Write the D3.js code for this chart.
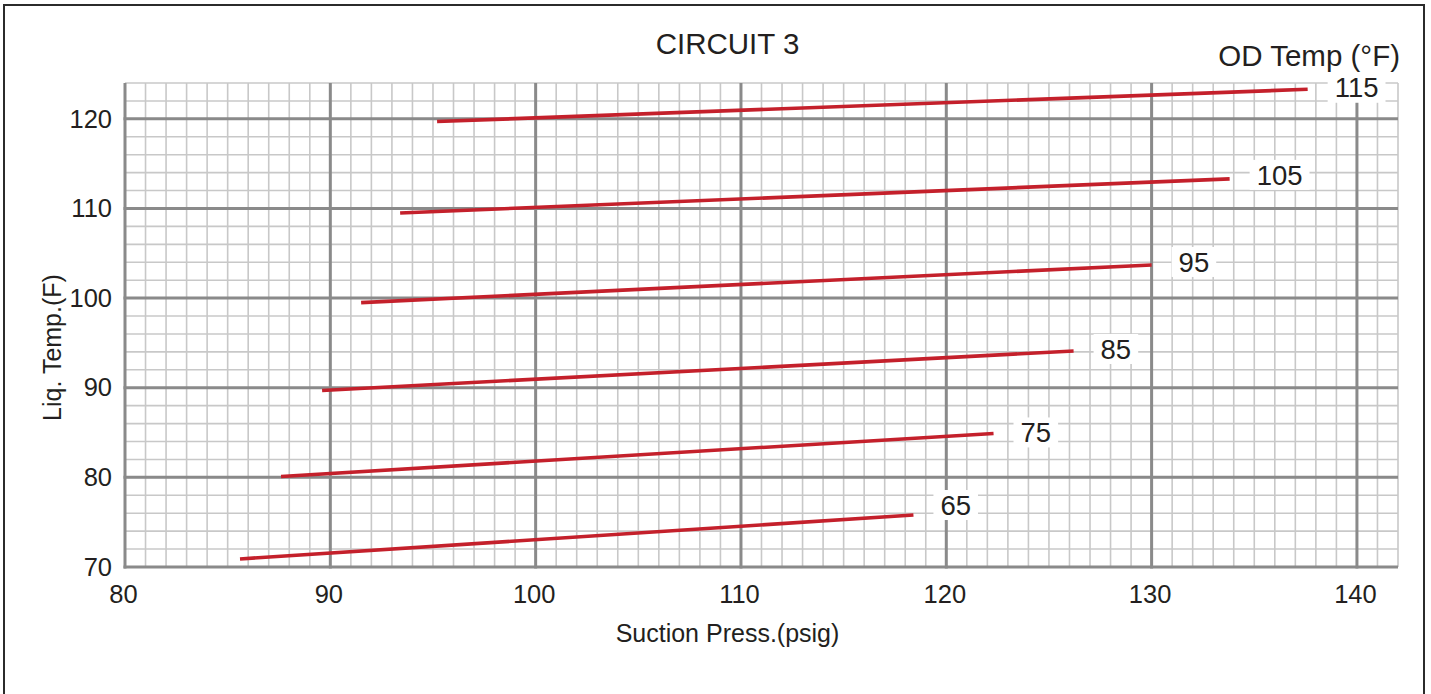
<!DOCTYPE html>
<html>
<head>
<meta charset="utf-8">
<script src="https://cdn.jsdelivr.net/npm/d3@7"></script>
<style>
  html, body { margin: 0; padding: 0; background: #fff; }
  svg { display: block; }
  text { font-family: "Liberation Sans", Arial, Helvetica, sans-serif; fill: #231f20; }
</style>
</head>
<body>
<svg id="chart" width="1431" height="694"></svg>
<script>
// ---- data ----
const odTemps = ["65", "75", "85", "95", "105", "115"];
const startPress = [85.6, 87.6, 89.6, 91.5, 93.4, 95.2];
const startLiq   = [70.9, 80.1, 89.7, 99.5, 109.5, 119.7];
const endPress   = [118.4, 122.3, 126.2, 130.0, 133.8, 137.6];
const endLiq     = [75.8, 84.9, 94.1, 103.7, 113.3, 123.3];
const xTicks = [80, 90, 100, 110, 120, 130, 140];
const yTicks = [70, 80, 90, 100, 110, 120];
const xDomain = [80, 142];
const yDomain = [70, 124];

const chartTitle = "CIRCUIT 3";
const xTitle = "Suction Press.(psig)";
const yTitle = "Liq. Temp.(F)";
const legendTitle = "OD Temp (°F)";

// ---- layout ----
const svg = d3.select("#chart");
const pLeft = 125, pRight = 1398, pTop = 83, pBottom = 567;
const x = d3.scaleLinear().domain(xDomain).range([pLeft, pRight]);
const y = d3.scaleLinear().domain(yDomain).range([pBottom, pTop]);

// outer frame
svg.append("rect")
  .attr("x", 4).attr("y", 5).attr("width", 1420).attr("height", 720)
  .attr("fill", "none").attr("stroke", "#2b2b2b").attr("stroke-width", 2);

// minor grid
const xMinor = d3.range(xDomain[0], xDomain[1] + 1, 1);
const yMinor = d3.range(yDomain[0], yDomain[1] + 1, 2);
const grid = svg.append("g");
grid.selectAll(".vx").data(xMinor).join("line")
  .attr("x1", d => x(d)).attr("x2", d => x(d))
  .attr("y1", y(yDomain[0])).attr("y2", y(yDomain[1]))
  .attr("stroke", "#c8c8c8").attr("stroke-width", 1.6);
grid.selectAll(".hy").data(yMinor).join("line")
  .attr("y1", d => y(d)).attr("y2", d => y(d))
  .attr("x1", x(xDomain[0])).attr("x2", x(xDomain[1]))
  .attr("stroke", "#c8c8c8").attr("stroke-width", 1.6);

// major grid
grid.selectAll(".mx").data(xTicks).join("line")
  .attr("x1", d => x(d)).attr("x2", d => x(d))
  .attr("y1", y(yDomain[0]) + 1.5).attr("y2", y(yDomain[1]))
  .attr("stroke", "#8a8a8a").attr("stroke-width", 3);
grid.selectAll(".my").data(yTicks).join("line")
  .attr("y1", d => y(d)).attr("y2", d => y(d))
  .attr("x1", x(xDomain[0]) - 1.5).attr("x2", x(xDomain[1]))
  .attr("stroke", "#8a8a8a").attr("stroke-width", 3);

// axes (labels only)
const xAxis = svg.append("g")
  .attr("transform", `translate(0,${pBottom})`)
  .call(d3.axisBottom(x).tickValues(xTicks).tickSize(0).tickPadding(18));
xAxis.select(".domain").remove();
xAxis.selectAll("text").attr("font-size", 25.5).attr("dx", -2)
  .style("font-family", '"Liberation Sans", Arial, sans-serif').attr("fill", "#231f20");

const yAxis = svg.append("g")
  .attr("transform", `translate(${pLeft},0)`)
  .call(d3.axisLeft(y).tickValues(yTicks).tickSize(0).tickPadding(13));
yAxis.select(".domain").remove();
yAxis.selectAll("text").attr("font-size", 25.5)
  .style("font-family", '"Liberation Sans", Arial, sans-serif').attr("fill", "#231f20");

// series
const series = odTemps.map((t, i) => ({
  label: t,
  pts: [[startPress[i], startLiq[i]], [endPress[i], endLiq[i]]]
}));
const labelNudge = [-10, -1, -2, -3, -4, -1.5];

// label boxes (white, cover grid)
const labG = svg.append("g");
const labelItems = series.map((s, i) => {
  const e = s.pts[1];
  return { text: s.label, lx: x(e[0]) + 27, ly: y(e[1]) + labelNudge[i] };
});
const boxes = labG.selectAll("rect").data(labelItems).join("rect").attr("fill", "#fff");
const texts = labG.selectAll("text").data(labelItems).join("text")
  .attr("x", d => d.lx).attr("y", d => d.ly)
  .attr("dy", "0.35em")
  .attr("font-size", 27.5)
  .text(d => d.text);
texts.each(function(d, i) {
  const bb = this.getBBox();
  d3.select(boxes.nodes()[i])
    .attr("x", bb.x - 7).attr("width", bb.width + 14)
    .attr("y", d.ly - 15).attr("height", 30);
});

const line = d3.line().x(d => x(d[0])).y(d => y(d[1]));
svg.append("g").selectAll("path").data(series).join("path")
  .attr("d", d => line(d.pts))
  .attr("fill", "none").attr("stroke", "#c4202b").attr("stroke-width", 3.6);
labG.raise();

// titles
svg.append("text").attr("x", 727.5).attr("y", 54).attr("text-anchor", "middle")
  .attr("font-size", 29.5).text(chartTitle);
svg.append("text").attr("x", 1400).attr("y", 66).attr("text-anchor", "end")
  .attr("font-size", 29.5).text(legendTitle);
svg.append("text").attr("x", 727.5).attr("y", 642).attr("text-anchor", "middle")
  .attr("font-size", 25).text(xTitle);
svg.append("text").attr("transform", "translate(61,347.5) rotate(-90)")
  .attr("text-anchor", "middle").attr("font-size", 25).text(yTitle);
</script>
</body>
</html>
